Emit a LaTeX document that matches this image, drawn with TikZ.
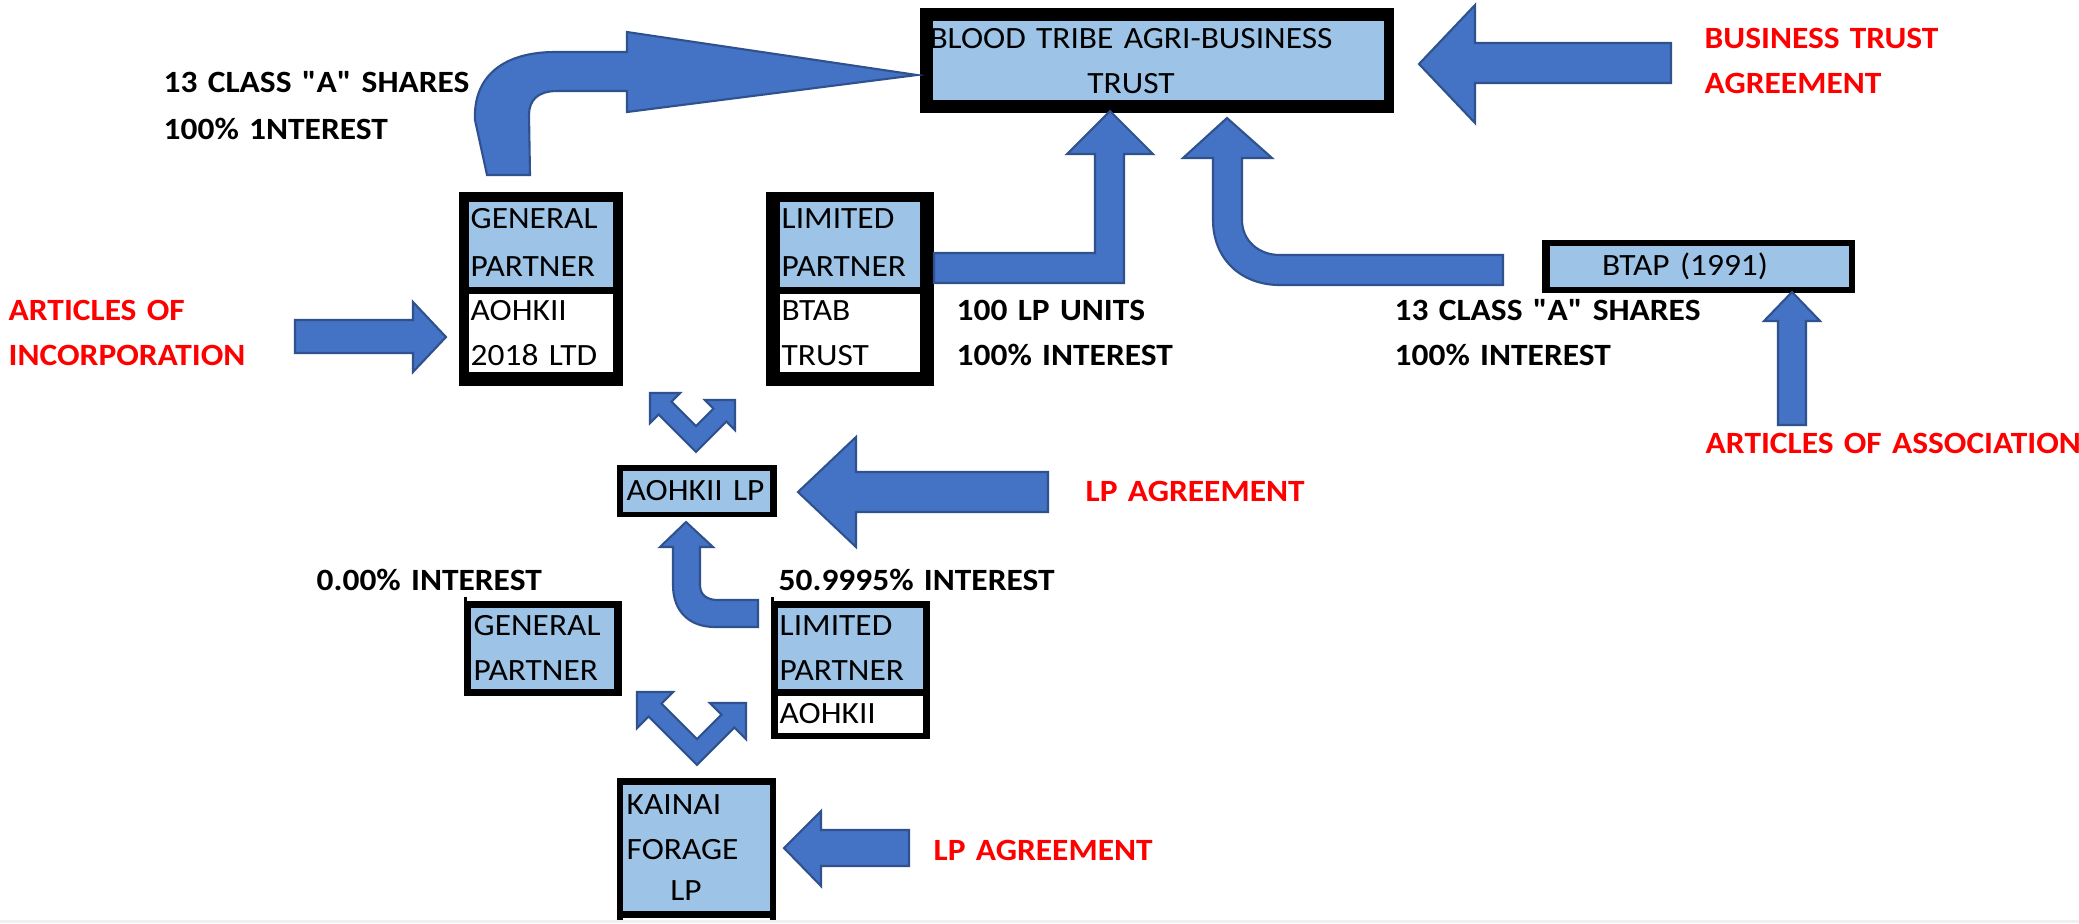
\documentclass[tikz,border=0pt]{standalone}
\usepackage{fontspec}
\setmainfont{Carlito}[FakeStretch=1.08, Ligatures=TeXOff]
\usepackage{xcolor}

\definecolor{arrowblue}{HTML}{4472C4}
\definecolor{arrowline}{HTML}{2F528F}
\definecolor{boxblue}{HTML}{9DC3E6}
\definecolor{agreered}{HTML}{FF0000}
\newcommand{\boxfont}{\fontsize{8.8pt}{13pt}\selectfont}
\newcommand{\lblfont}{\fontsize{8.8pt}{12.8pt}\selectfont\bfseries}

\tikzset{
	boxtxt/.style={anchor=base west, inner sep=0pt, font=\boxfont, text width=3cm, align=left},
	lbl/.style={anchor=base west, inner sep=0pt, font=\lblfont, text width=5cm, align=left},
	redlbl/.style={lbl, text=agreered},
	blockarr/.style={fill=arrowblue, draw=arrowline, line width=0.6pt, line join=miter}
}

\begin{document}
\begin{tikzpicture}[x=0.01cm, y=-0.01cm]
		\fill[white] (0,0) rectangle (2079,923);
		\useasboundingbox (0,0) rectangle (2079,923);

		\fill (920,8) rectangle (1394,113);
		\fill[boxblue] (933,21) rectangle (1384,100);
		\fill (459,192) rectangle (623,386);
		\fill[boxblue] (469,202) rectangle (613,287);
		\fill[white] (469,294) rectangle (613,372);
		\fill (766,192) rectangle (934,386);
		\fill[boxblue] (780,202) rectangle (920,287);
		\fill[white] (780,294) rectangle (920,372);
		\fill (1542,240) rectangle (1855,293);
		\fill[boxblue] (1550,246) rectangle (1849,287);
		\fill (617,465) rectangle (777,517);
		\fill[boxblue] (623,471) rectangle (770,512);
		\fill (464,597) rectangle (467,601);
		\fill (464,601) rectangle (622,696);
		\fill[boxblue] (471,608) rectangle (614,689);
		\fill (771,597) rectangle (774,601);
		\fill (771,601) rectangle (930,739);
		\fill[boxblue] (778,608) rectangle (923,689);
		\fill[white] (778,696) rectangle (923,733);
		\fill (617,778) rectangle (776,923);
		\fill[boxblue] (623,785) rectangle (770,911);
		\fill[white] (623,918) rectangle (770,923);

		\draw (1131,48) node[boxtxt, anchor=base, text width=4.6cm, align=center] (trust) {BLOOD TRIBE AGRI-BUSINESS\\TRUST}
		(470,228) node[boxtxt, font=\fontsize{8.8pt}{13.8pt}\selectfont] (gptop) {GENERAL\\PARTNER}
		(470,320) node[boxtxt] (gpname) {AOHKII\\2018 LTD}
		(781,228) node[boxtxt, font=\fontsize{8.8pt}{13.8pt}\selectfont] (lptop) {LIMITED\\PARTNER}
		(781,320) node[boxtxt] (lpname) {BTAB\\TRUST}
		(1685,275) node[boxtxt, anchor=base, align=center] (btap) {BTAP (1991)}
		(626,500) node[boxtxt] (aohkiilp) {AOHKII LP}
		(473,635) node[boxtxt] (gplow) {GENERAL\\PARTNER}
		(779,635) node[boxtxt] (lplow) {LIMITED\\PARTNER}
		(779,723) node[boxtxt] (lplowname) {AOHKII}
		(626,814) node[boxtxt] (kainai) {KAINAI\\FORAGE}
		(686,900) node[boxtxt, anchor=base, text width=1cm, align=center] (kainailp) {LP};

		\draw (163,92) node[lbl, font=\fontsize{8.8pt}{13.6pt}\selectfont\bfseries] (gpshares) {13 CLASS "A" SHARES\\100\% 1NTEREST}
		(956,320) node[lbl] (lpunits) {100 LP UNITS\\100\% INTEREST}
		(1394,320) node[lbl] (btapshares) {13 CLASS "A" SHARES\\100\% INTEREST}
		(316,590) node[lbl] (gpint) {0.00\% INTEREST}
		(778,590) node[lbl] (lpint) {50.9995\% INTEREST}
		(8,320) node[redlbl] (incorp) {ARTICLES OF\\INCORPORATION}
		(1704,48) node[redlbl] (trustagree) {BUSINESS TRUST\\AGREEMENT}
		(1705,453) node[redlbl] (assoc) {ARTICLES OF ASSOCIATION}
		(1085,501) node[redlbl] (lpagree) {LP AGREEMENT}
		(933,860) node[redlbl] (kainaiagree) {LP AGREEMENT};

		\draw[blockarr] (487,175) -- (475,120) .. controls (473,75) and (505,52) .. (555,52) -- (627,52) -- (627,32) -- (917,75)
			-- (627,112) -- (627,91) -- (557,91) .. controls (538,91) and (529,100) .. (529,115) -- (530,175) -- cycle;
		\draw[blockarr] (295,320) -- (413,320) -- (413,302) -- (446,337) -- (413,372) -- (413,353) -- (295,353) -- cycle;
		\draw[blockarr] (1671,43) -- (1475,43) -- (1475,5) -- (1419,64) -- (1475,123) -- (1475,83) -- (1671,83) -- cycle;
		\draw[blockarr] (934,253) -- (1095,253) -- (1095,154) -- (1067,154) -- (1110,111) -- (1153,154) -- (1124,154) -- (1124,283) -- (934,283) -- cycle;
		\draw[blockarr] (1503,255) -- (1280,255) .. controls (1258,255) and (1242,240) .. (1242,220) -- (1242,158) -- (1272,158) -- (1227,118)
			-- (1183,158) -- (1213,158) -- (1213,220) .. controls (1213,258) and (1240,285) .. (1280,285) -- (1503,285) -- cycle;
		\draw[blockarr] (1778,425) -- (1778,321) -- (1764,321) -- (1792,292) -- (1820,321) -- (1806,321) -- (1806,425) -- cycle;
		\draw[blockarr] (650,393) -- (680,393) -- (671.4,401.6) -- (696,426.2) -- (713.6,408.6) -- (705,400) -- (735,400) -- (735,430)
			-- (726.4,421.4) -- (696,451.8) -- (658.6,414.4) -- (650,423) -- cycle;
		\draw[blockarr] (1048,472) -- (856,472) -- (856,437) -- (798,492) -- (856,547) -- (856,512) -- (1048,512) -- cycle;
		\draw[blockarr] (758,600) -- (718,600) .. controls (707,600) and (700,595) .. (700,585) -- (700,547) -- (713,547) -- (686,522)
			-- (660,547) -- (673,547) -- (673,585) .. controls (673,612) and (690,627) .. (715,627) -- (758,627) -- cycle;
		\draw[blockarr] (637,692) -- (673,692) -- (661.4,703.6) -- (697,739.2) -- (721.6,714.6) -- (710,703) -- (746,703) -- (746,739)
			-- (734.4,727.4) -- (697,764.8) -- (648.6,716.4) -- (637,728) -- cycle;
		\draw[blockarr] (909,830) -- (821,830) -- (821,811) -- (784,848) -- (821,886) -- (821,866) -- (909,866) -- cycle;

		\fill[black!6] (0,920) rectangle (2079,923);
	\end{tikzpicture}
\end{document}
